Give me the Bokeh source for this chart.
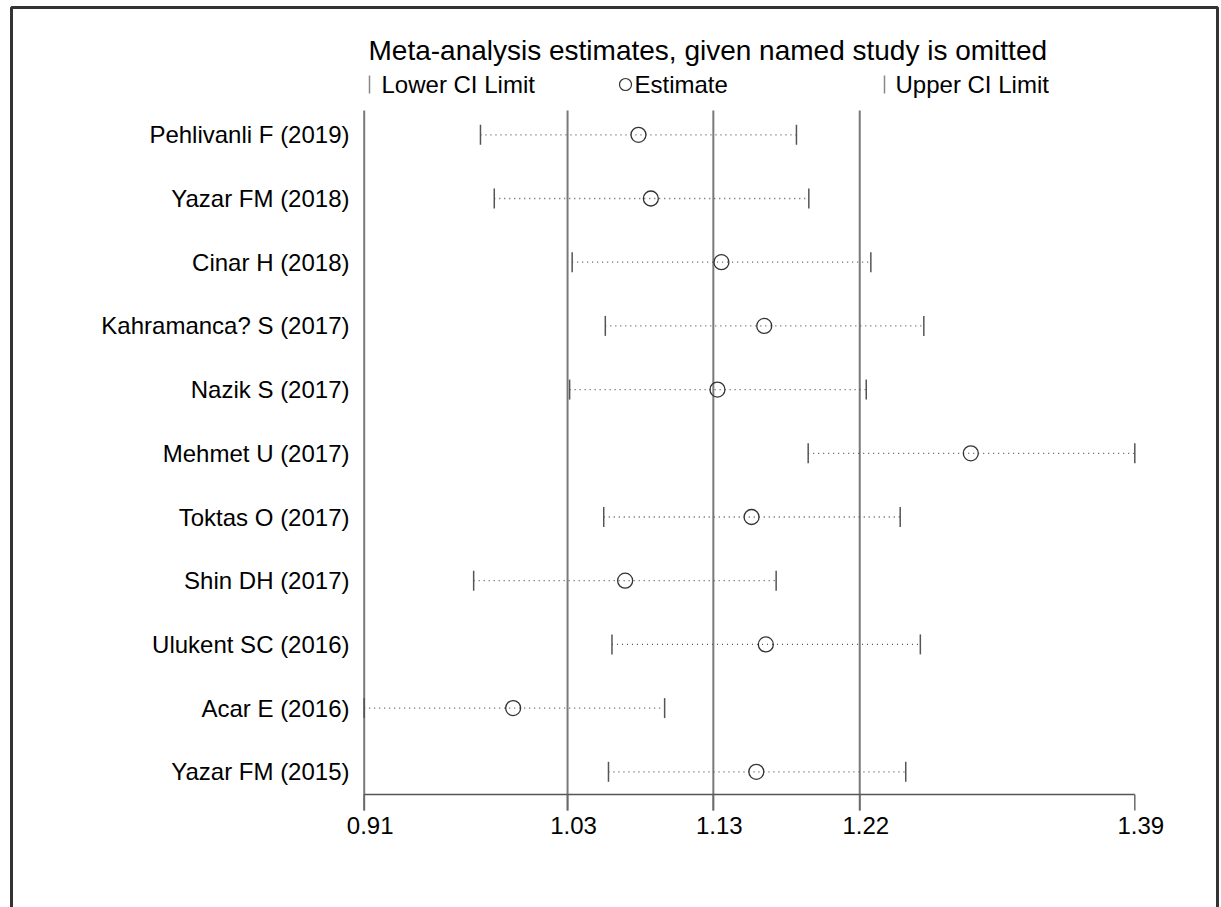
from bokeh.plotting import figure
from bokeh.models import Range1d
from bokeh.core.properties import value
from bokeh.embed import file_html
from bokeh.resources import INLINE

# ---------------- data ----------------
studies = ["Pehlivanli F (2019)", "Yazar FM (2018)", "Cinar H (2018)",
           "Kahramanca? S (2017)", "Nazik S (2017)", "Mehmet U (2017)",
           "Toktas O (2017)", "Shin DH (2017)", "Ulukent SC (2016)",
           "Acar E (2016)", "Yazar FM (2015)"]
lower = [0.9793, 0.9880, 1.0371, 1.0580, 1.0355, 1.1859, 1.0570, 0.9750, 1.0622, 0.9060, 1.0600]
estimate = [1.0789, 1.0867, 1.1312, 1.1582, 1.1287, 1.2884, 1.1502, 1.0705, 1.1592, 0.9999, 1.1532]
upper = [1.1785, 1.1863, 1.2254, 1.2588, 1.2225, 1.3918, 1.2439, 1.1657, 1.2566, 1.0954, 1.2474]
overall_ci = [1.0342, 1.1261, 1.2184]          # lower CI, estimate, upper CI
tick_values = [0.906, 1.0342, 1.1261, 1.2184, 1.3918]
tick_labels = ["0.91", "1.03", "1.13", "1.22", "1.39"]
title_text = "Meta-analysis estimates, given named study is omitted"
legend_labels = ["Lower CI Limit", "Estimate", "Upper CI Limit"]

# ---------------- layout ----------------
W, H = 1221, 907
X_MIN_PX, X_MAX_PX = 363.7, 1134.3
ROW0_PX, ROW_STEP = 134.3, 63.7
ppu = (X_MAX_PX - X_MIN_PX) / (tick_values[-1] - tick_values[0])
x_start = tick_values[0] - X_MIN_PX / ppu
x_end = x_start + W / ppu


def xv(px):
    return x_start + px / ppu


def yv(px):
    return (px - ROW0_PX) / ROW_STEP


FONT = value("Liberation Sans")
rows = list(range(len(studies)))

p = figure(width=W, height=H, output_backend="svg", toolbar_location=None,
           x_range=Range1d(x_start, x_end),
           y_range=Range1d(yv(H), yv(0)),
           min_border=0, min_border_left=0, min_border_right=0,
           min_border_top=0, min_border_bottom=0,
           x_axis_type=None, y_axis_type=None)
p.grid.visible = False
p.outline_line_color = None
p.background_fill_color = "white"
p.border_fill_color = "white"

# outer frame (left, top, right)
bx0, bx1, by0, by1 = xv(11), xv(1217), yv(7), yv(H + 20)
p.line(x=[bx0, bx0, bx1, bx1], y=[by1, by0, by0, by1], line_color="#333333", line_width=3)

# reference vertical lines at overall CI / estimate
axis_y = yv(794)
tick_bot = yv(810)
top_y = yv(110)
p.segment(x0=overall_ci, x1=overall_ci, y0=[top_y] * 3, y1=[tick_bot] * 3,
          line_color="#7a7a7a", line_width=2)
# left boundary line (minimum)
p.segment(x0=[tick_values[0]], x1=[tick_values[0]], y0=[top_y], y1=[tick_bot],
          line_color="#7a7a7a", line_width=2)

# x axis line and ticks
p.segment(x0=[tick_values[0]], x1=[tick_values[-1]], y0=[axis_y], y1=[axis_y],
          line_color="#555555", line_width=1.5)
p.segment(x0=tick_values, x1=tick_values, y0=[axis_y] * len(tick_values),
          y1=[tick_bot] * len(tick_values), line_color="#6a6a6a", line_width=1.5)
p.text(x=tick_values, y=[yv(825)] * len(tick_values), text=tick_labels,
       text_font=FONT, text_font_size="24px", text_align="center",
       text_baseline="middle", text_color="black", x_offset=6)

# study rows
cap = 10 / ROW_STEP
p.segment(x0=lower, x1=upper, y0=rows, y1=rows, line_color="#555555",
          line_width=1.3, line_dash="1 4")
p.segment(x0=lower, x1=lower, y0=[r - cap for r in rows], y1=[r + cap for r in rows],
          line_color="#555555", line_width=1.5)
p.segment(x0=upper, x1=upper, y0=[r - cap for r in rows], y1=[r + cap for r in rows],
          line_color="#555555", line_width=1.5)
p.scatter(x=estimate, y=rows, marker="circle", size=15, fill_color=None,
          line_color="#333333", line_width=1.3)

p.text(x=[xv(349)] * len(studies), y=rows, text=studies, text_font=FONT,
       text_font_size="24px", text_align="right", text_baseline="middle",
       text_color="black")

# title
p.text(x=[xv(368)], y=[yv(50)], text=[title_text], text_font=FONT,
       text_font_size="28px", text_align="left", text_baseline="middle",
       text_color="black")

# legend
ly = yv(84)
lcap = 9 / ROW_STEP
p.segment(x0=[xv(369), xv(884)], x1=[xv(369), xv(884)], y0=[ly - lcap] * 2,
          y1=[ly + lcap] * 2, line_color="#888888", line_width=1.5)
p.scatter(x=[xv(625)], y=[ly], marker="circle", size=12, fill_color=None,
          line_color="#333333", line_width=1.2)
p.text(x=[xv(381), xv(634), xv(895)], y=[ly] * 3, text=legend_labels,
       text_font=FONT, text_font_size="24px", text_align="left",
       text_baseline="middle", text_color="black")

open("out.html", "w").write(file_html(p, INLINE))
